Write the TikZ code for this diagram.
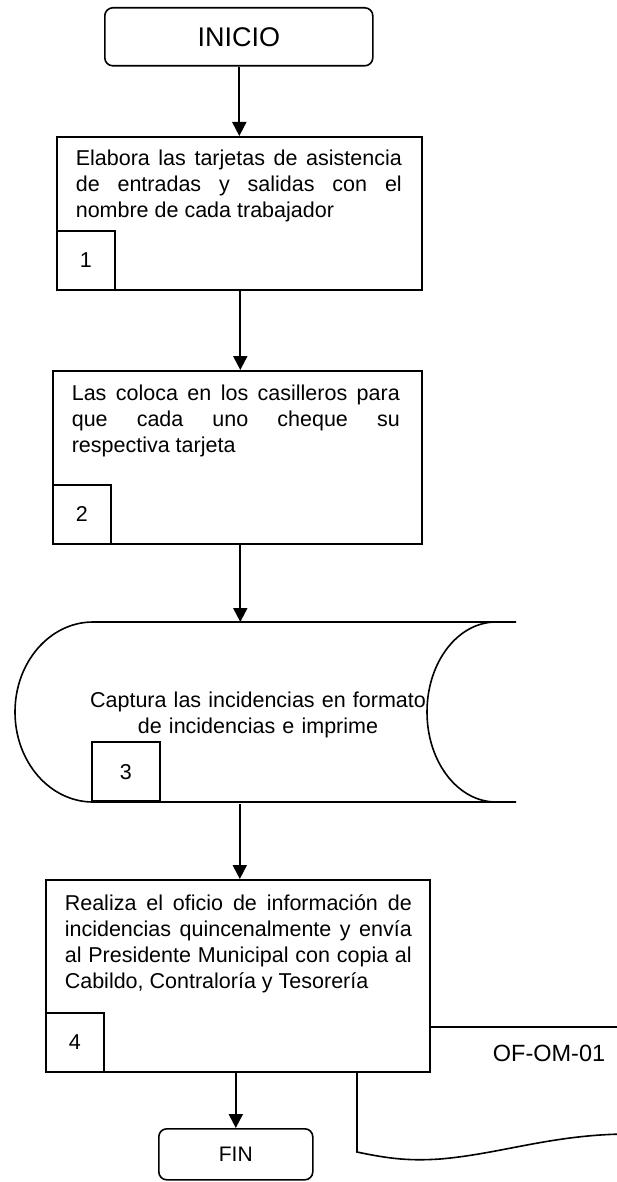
\documentclass[tikz,border=0pt]{standalone}
\usepackage{fontspec}
\setmainfont{Liberation Sans}
\usetikzlibrary{arrows.meta}
\hbadness=10000
\begin{document}
\begin{tikzpicture}[x=1pt,y=-1pt, line width=1.6pt,
  every node/.style={inner sep=0pt, font=\fontsize{21.5pt}{26pt}\selectfont},
  term/.style={draw, rounded corners=8pt, anchor=north west},
  proc/.style={draw, fill=white, anchor=north west},
  num/.style={draw, anchor=south west, minimum height=59pt},
  txt/.style={anchor=base west, align=justify},
  arr/.style={-{Triangle[length=14pt,width=14pt]}, line width=2pt}]
\useasboundingbox (0,0) rectangle (616,1182);

% INICIO
\node[term, minimum width=268pt, minimum height=58pt, font=\fontsize{27pt}{30pt}\selectfont] (ini) at (104,7) {INICIO};

% Step 1
\node[proc, minimum width=365pt, minimum height=153pt] (b1) at (56,136) {};
\node[txt, text width=326pt] (t1) at (75,166) {Elabora las tarjetas de asistencia\linebreak de entradas y salidas con el\linebreak nombre de cada trabajador};
\node[num, minimum width=58pt] (n1) at (b1.south west) {1};

% Step 2
\node[proc, minimum width=369pt, minimum height=173pt] (b2) at (52,370) {};
\node[txt, text width=328pt] (t2) at (71,400) {Las coloca en los casilleros para\linebreak que cada uno cheque su\linebreak respectiva tarjeta};
\node[num, minimum width=58pt] (n2) at (b2.south west) {2};

% Step 3 (stored data)
\node[minimum width=501pt, minimum height=180pt, anchor=north west] (s3) at (15,622) {};
\draw (516,622) -- (93,622) .. controls (50,622) and (15,662) .. (15,712)
      .. controls (15,762) and (50,802) .. (93,802) -- (516,802);
\draw (496,622) .. controls (458,622) and (427,662) .. (427,712)
      .. controls (427,762) and (458,802) .. (496,802);
\node[anchor=base, text width=345pt, align=center] (t3) at (258,707) {Captura las incidencias en formato\\de incidencias e imprime};
\node[draw, anchor=south west, minimum width=68pt, minimum height=59pt] (n3) at (91,802) {3};

% Document OF-OM-01 (behind step 4)
\draw (357,1060) -- (357,1152) .. controls (390,1159) and (410,1161) .. (440,1159)
      .. controls (500,1154) and (550,1135) .. (625,1134);
\draw (420,1027) -- (625,1027);
\node[font=\fontsize{23.5pt}{26pt}\selectfont] (doc) at (549,1053) {OF-OM-01};

% Step 4
\node[proc, minimum width=384pt, minimum height=192pt] (b4) at (45,879) {};
\node[txt, text width=347pt] (t4) at (64,910) {Realiza el oficio de información de\linebreak incidencias quincenalmente y envía\linebreak al Presidente Municipal con copia al\linebreak Cabildo, Contraloría y Tesorería};
\node[num, minimum width=58pt] (n4) at (b4.south west) {4};

% FIN
\node[term, minimum width=154pt, minimum height=51pt, font=\fontsize{21pt}{24pt}\selectfont] (fin) at (158,1128) {FIN};

% Connectors
\draw[arr] (ini.south -| b1.north) -- (b1.north);
\draw[arr] ([xshift=1pt]b1.south) -- ([xshift=1pt]b1.south |- b2.north);
\draw[arr] ([xshift=3pt]b2.south) -- ([xshift=3pt]b2.south |- s3.north);
\draw[arr] ([xshift=2pt]b4.north |- s3.south) -- ([xshift=2pt]b4.north);
\draw[arr] (fin.north |- b4.south) -- (fin.north);
\end{tikzpicture}
\end{document}
